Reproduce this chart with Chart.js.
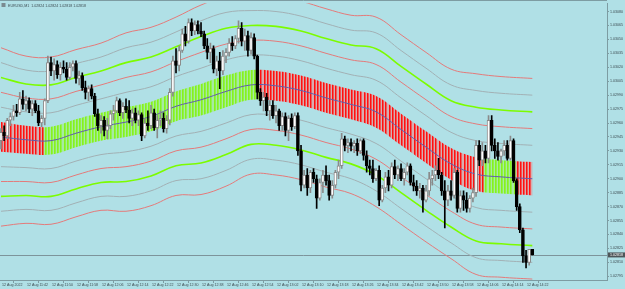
<!DOCTYPE html>
<html>
<head>
<meta charset="utf-8">
<script src="https://cdn.jsdelivr.net/npm/chart.js@4.4.0/dist/chart.umd.min.js"></script>
<style>
  html, body { margin: 0; padding: 0; background: #b0e0e6; }
  canvas { display: block; }
</style>
</head>
<body>
<canvas id="chart" width="625" height="289"></canvas>
<script>
// EURUSD M1, prices stored in points (0.00001) above 1.02800
const BASE = 1.028;
const symbol = 'EURUSD,M1';

const open = [141,150,146,163,167,173,171,186,180,184,175,181,173,160,165,184,225,216,223,212,
  220,218,209,220,224,208,211,198,193,197,189,170,157,163,152,157,170,173,184,171,
  178,174,165,171,163,169,146,160,157,171,155,163,165,154,163,193,227,222,238,256,
  248,268,259,266,259,256,243,236,240,218,227,216,232,236,246,243,251,262,248,254,
  238,252,232,193,184,188,173,179,168,173,157,167,152,165,156,168,130,93,104,90,
  107,100,79,96,104,98,82,93,107,114,143,136,139,135,138,130,141,125,114,111,
  100,109,77,90,102,93,113,104,111,100,107,114,96,92,87,90,77,87,100,104,
  109,104,87,77,87,82,107,68,82,77,68,79,85,136,120,130,122,163,136,130,
  124,130,136,122,141,98,70,45,17,10,24];
const high = [154,157,165,171,179,180,193,195,189,187,184,184,179,168,186,232,231,229,227,225,
  227,225,225,227,227,216,214,205,200,201,192,175,168,167,165,173,179,188,186,182,
  186,184,175,176,173,171,165,173,179,175,168,173,171,168,197,232,240,243,261,264,
  272,272,270,270,268,259,251,246,243,232,236,238,240,251,253,254,270,268,261,259,
  257,256,233,197,193,192,184,184,179,175,171,171,168,170,171,171,136,109,111,109,
  111,104,100,109,114,104,98,109,120,149,146,143,143,141,143,143,143,130,120,120,
  111,114,93,107,109,117,120,114,116,111,117,116,104,98,95,93,93,107,109,114,
  122,107,98,93,98,111,109,87,87,85,82,90,141,141,139,136,168,168,143,139,
  132,141,141,146,143,100,73,47,23,24,24];
const low = [132,141,143,157,163,167,169,175,173,171,168,171,157,156,158,182,211,206,208,206,
  214,206,207,216,203,201,195,186,184,186,167,152,149,146,143,154,163,171,168,165,
  171,160,157,160,157,141,144,152,154,152,144,157,150,149,158,189,214,216,236,243,
  246,254,255,256,253,240,229,225,214,211,197,212,225,232,238,240,246,243,238,232,
  234,229,186,179,173,168,163,165,160,152,152,146,141,152,154,125,87,90,82,85,
  96,68,77,85,93,77,79,90,100,111,130,128,130,128,125,127,120,107,104,96,
  98,71,75,85,87,90,100,98,98,93,104,93,87,82,79,64,75,82,93,98,
  100,82,47,71,77,79,64,64,66,64,64,75,81,114,114,117,117,130,122,120,
  117,125,120,120,96,66,42,10,4,7,18];
const close = [150,146,163,167,173,171,186,180,184,175,181,173,160,165,184,225,216,223,212,220,
  218,209,220,224,208,211,198,193,197,189,170,157,163,152,157,170,173,184,171,178,
  174,165,171,163,169,146,160,157,171,155,163,165,154,163,193,227,222,238,256,248,
  268,259,266,259,256,243,236,240,218,227,216,232,236,246,243,251,262,248,254,238,
  252,232,193,184,188,173,179,168,173,157,167,152,165,156,168,130,93,104,90,107,
  100,79,96,104,98,82,93,107,114,143,136,139,135,138,130,141,125,114,111,100,
  109,77,90,102,93,113,104,111,100,107,114,96,92,87,90,77,87,100,104,109,
  104,87,77,87,82,107,68,82,77,68,79,85,136,120,130,122,163,136,130,124,
  130,136,122,141,98,70,45,17,10,24,18];

// channel lines, sampled at these bar indices
const bandIdx = [0,8,16,24,32,40,48,56,64,72,80,88,96,104,112,120,128,136,144,152,160,170];
const mid = [145,142,141,149,156,161,167,178,185,194,201,200,195,187,180,172,153,134,116,105,102,100];
const up1 = [161,157,156,164,171,177,183,194,202,211,217,216,211,203,196,189,170,151,133,123,120,118];
const dn1 = [129,127,126,134,141,145,151,162,168,177,185,184,179,171,164,155,136,117,99,87,84,82];
const up2 = [177,172,171,179,186,193,199,210,219,228,233,232,227,219,212,206,187,168,150,141,138,136];
const dn2 = [113,112,111,119,126,129,135,146,151,160,169,168,163,155,148,138,119,100,82,69,66,64];
const up3 = [193,187,186,194,201,209,215,226,236,245,249,248,243,235,228,223,204,185,167,159,156,154];
const dn3 = [97,97,96,104,111,113,119,130,134,143,153,152,147,139,132,121,102,83,65,51,48,46];
const up4 = [209,202,201,209,216,225,231,242,253,262,265,264,259,251,244,240,221,202,184,177,174,172];
const dn4 = [81,82,81,89,96,97,103,114,117,126,137,136,131,123,116,104,85,66,48,33,30,28];
const up5 = [225,217,216,224,231,241,247,258,270,279,281,280,275,267,260,257,238,219,201,195,192,190];
const dn5 = [65,67,66,74,81,81,87,98,100,109,121,120,115,107,100,87,68,49,31,15,12,10];
const up6 = [241,232,231,239,246,257,263,274,287,296,297,296,291,283,276,274,255,236,218,213,210,208];
const dn6 = [49,52,51,59,66,65,71,82,83,92,105,104,99,91,84,70,51,32,14,-3,-6,-8];

// bars where the histogram is green (inclusive ranges)
const bullRuns = [[14, 82], [155, 164]];

const timeIdx = [0,8,16,24,32,40,48,56,64,72,80,88,96,104,112,120,128,136,144,152,160,168];
const timeLabels = ['12 Aug 2022','12 Aug 11:42','12 Aug 11:50','12 Aug 11:58','12 Aug 12:06',
  '12 Aug 12:14','12 Aug 12:22','12 Aug 12:30','12 Aug 12:38','12 Aug 12:46','12 Aug 12:54',
  '12 Aug 13:02','12 Aug 13:10','12 Aug 13:18','12 Aug 13:26','12 Aug 13:34','12 Aug 13:42',
  '12 Aug 13:50','12 Aug 13:58','12 Aug 14:06','12 Aug 14:14','12 Aug 14:22'];
const priceTicks = [-5,10,25,40,55,70,85,100,115,130,145,160,175,190,205,220,235,250,265,280];

const fmt = v => (BASE + v / 1e5).toFixed(5);
const AXIS = '#7d9ca2';
const TXT = '#3c4a50';
const GRAY = 'rgb(162,176,180)';
const RED = 'rgb(228,122,122)';
const GREEN = '#7cfc00';

const idx = close.map((_, i) => i);
const isUp = close.map((c, i) => c >= open[i]);
const pts = arr => arr.map((v, j) => ({ x: bandIdx[j], y: v }));

let histCache = null;
function histPattern(chart) {
  const xs = chart.scales.x;
  if (!xs || !chart.chartArea) return 'transparent';
  if (histCache) return histCache;
  const c = document.createElement('canvas');
  c.width = chart.width; c.height = 1;
  const g = c.getContext('2d');
  const bull = i => bullRuns.some(r => i >= r[0] && i <= r[1]);
  idx.forEach(i => {
    const px = Math.round(xs.getPixelForValue(i));
    g.fillStyle = bull(i) ? 'rgba(160,240,110,0.55)' : 'rgba(240,140,140,0.6)';
    g.fillRect(px - 2, 0, 4, 1);
  });
  idx.forEach(i => {
    const px = Math.round(xs.getPixelForValue(i));
    g.fillStyle = bull(i) ? '#86f020' : '#ff1010';
    g.fillRect(px, 0, 1, 1);
    g.fillStyle = bull(i) ? 'rgba(124,252,0,0.5)' : 'rgba(255,0,0,0.45)';
    g.fillRect(px + 1, 0, 1, 1);
  });
  histCache = chart.ctx.createPattern(c, 'repeat-y');
  return histCache;
}

const band = (arr, color, width) => ({
  type: 'line', data: pts(arr), borderColor: color, borderWidth: width,
  pointRadius: 0, tension: 0.4, fill: false, order: 15
});

const decor = {
  id: 'decor',
  beforeDatasetsDraw(chart) {
    const { ctx, chartArea: a, scales: { y } } = chart;
    const py = Math.round(y.getPixelForValue(close[close.length - 1])) + 0.5;
    ctx.save();
    ctx.strokeStyle = 'rgba(120,140,146,0.9)';
    ctx.lineWidth = 1;
    ctx.beginPath(); ctx.moveTo(a.left, py); ctx.lineTo(a.right, py); ctx.stroke();
    ctx.restore();
  },
  afterDraw(chart) {
    const { ctx, chartArea: a, scales: { y } } = chart;
    const last = close.length - 1;
    ctx.save();
    ctx.strokeStyle = AXIS;
    ctx.lineWidth = 1;
    ctx.beginPath(); ctx.moveTo(a.left, 0.5); ctx.lineTo(a.right, 0.5); ctx.stroke();
    // current price tag
    const py = y.getPixelForValue(close[last]);
    ctx.fillStyle = '#4e5659';
    ctx.fillRect(a.right + 1, py - 2.5, 625 - a.right - 1, 5);
    ctx.fillStyle = '#ffffff';
    ctx.font = '3.6px "Liberation Sans"';
    ctx.textBaseline = 'middle';
    ctx.fillText(fmt(close[last]), a.right + 3, py);
    // header
    ctx.fillStyle = '#7a8a90';
    ctx.fillRect(1.5, 3, 4, 4);
    ctx.fillStyle = TXT;
    ctx.fillText(symbol + '  ' + [open[last], high[last], low[last], close[last]].map(fmt).join(' '), 8, 5.5);
    ctx.restore();
  }
};

new Chart(document.getElementById('chart'), {
  type: 'bar',
  data: {
    datasets: [
      { type: 'line', data: pts(up1), borderWidth: 0, borderColor: 'transparent', pointRadius: 0,
        tension: 0.4, fill: '+1', backgroundColor: ctx => histPattern(ctx.chart), order: 20 },
      { type: 'line', data: pts(dn1), borderWidth: 0, borderColor: 'transparent', pointRadius: 0,
        tension: 0.4, fill: false, order: 20 },
      band(up2, GRAY, 1), band(dn2, GRAY, 1),
      band(up3, RED, 1), band(dn3, RED, 1),
      band(up4, GREEN, 1.6), band(dn4, GREEN, 1.6),
      band(up5, GRAY, 1), band(dn5, GRAY, 1),
      band(up6, RED, 1), band(dn6, RED, 1),
      { type: 'line', data: pts(mid), borderColor: 'rgb(96,92,170)', borderWidth: 1,
        pointRadius: 0, tension: 0.4, fill: false, order: 12 },
      { data: idx.map(i => ({ x: i, y: [low[i], high[i]] })),
        backgroundColor: isUp.map(u => u ? '#8a8a8a' : '#000000'),
        barThickness: 1, grouped: false, order: 5 },
      { data: idx.map(i => ({ x: i, y: [open[i], close[i]] })),
        backgroundColor: isUp.map(u => u ? '#ffffff' : '#000000'),
        borderColor: isUp.map(u => u ? '#8a8a8a' : '#000000'),
        borderWidth: 1, borderSkipped: false, barThickness: 3, grouped: false, order: 4 }
    ]
  },
  options: {
    responsive: false,
    animation: false,
    layout: { padding: { top: 1, left: 0, right: 0, bottom: 0 } },
    plugins: { legend: { display: false }, tooltip: { enabled: false } },
    font: { family: '"Liberation Sans"' },
    scales: {
      x: {
        type: 'linear', offset: false, min: -0.32, max: 193.9,
        border: { display: true, color: AXIS },
        grid: { drawOnChartArea: false, drawTicks: true, tickLength: 3, color: AXIS },
        afterBuildTicks: s => { s.ticks = timeIdx.map(v => ({ value: v })); },
        afterFit: s => { s.height = 9; },
        ticks: {
          autoSkip: false, maxRotation: 0, align: 'start', padding: 0, labelOffset: 1,
          color: TXT, font: { size: 3.6, family: '"Liberation Sans"' },
          callback: (v, i) => timeLabels[i]
        }
      },
      y: {
        type: 'linear', position: 'right', min: -9, max: 289,
        border: { display: true, color: AXIS },
        grid: { drawOnChartArea: false, drawTicks: true, tickLength: 2, color: AXIS },
        afterBuildTicks: s => { s.ticks = priceTicks.map(v => ({ value: v })); },
        afterFit: s => { s.width = 18; },
        ticks: {
          padding: 1, color: TXT, font: { size: 3.6, family: '"Liberation Sans"' },
          callback: v => fmt(v)
        }
      }
    }
  },
  plugins: [decor]
});
</script>
</body>
</html>
